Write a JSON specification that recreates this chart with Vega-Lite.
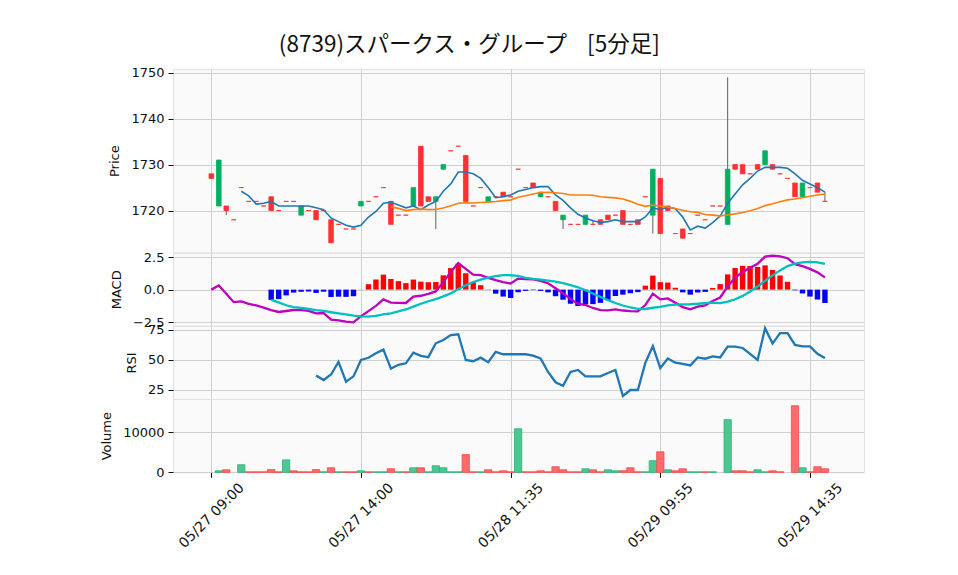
{
"$schema":"https://vega.github.io/schema/vega-lite/v6.json",
"background":"white",
"padding":{"left":100,"top":33,"right":5,"bottom":5},
"title":{"text":"(8739)スパークス・グループ \u00a0\u00a0\u00a0[5分足]","font":"Noto Sans CJK JP","fontSize":22.5,"fontWeight":"normal","color":"#101010","anchor":"middle","offset":10,"dx":-13},
"config":{
 "view":{"fill":"#fafafa","stroke":"#e2e2e2"},
 "axis":{"labelFont":"DejaVu Sans","titleFont":"DejaVu Sans","labelFontSize":13,"titleFontSize":13,"titleFontWeight":"normal","labelColor":"#101010","titleColor":"#101010","gridColor":"#d0d0d0","gridWidth":1,"tickColor":"#101010","tickSize":5,"labelPadding":4,"titlePadding":9,"domain":false,"labelOverlap":false}
},
"datasets":{"d":[
{"i":0,"o":1728,"h":1728,"l":1727,"c":1727,"v":null,"vd":"down","m5":null,"m25":null,"macd":0,"sig":null,"hist":null,"rsi":null},
{"i":1,"o":1721,"h":1731,"l":1721,"c":1731,"v":400,"vd":"up","m5":null,"m25":null,"macd":0.319,"sig":null,"hist":null,"rsi":null},
{"i":2,"o":1721,"h":1721,"l":1719,"c":1720,"v":650,"vd":"down","m5":null,"m25":null,"macd":-0.312,"sig":null,"hist":null,"rsi":null},
{"i":3,"o":1718,"h":1718,"l":1718,"c":1718,"v":null,"vd":"down","m5":null,"m25":null,"macd":-0.962,"sig":null,"hist":null,"rsi":null},
{"i":4,"o":1725,"h":1725,"l":1725,"c":1725,"v":1900,"vd":"up","m5":1724.2,"m25":null,"macd":-0.903,"sig":null,"hist":null,"rsi":null},
{"i":5,"o":1722,"h":1722,"l":1722,"c":1722,"v":150,"vd":"down","m5":1723.2,"m25":null,"macd":-1.085,"sig":null,"hist":null,"rsi":null},
{"i":6,"o":1722,"h":1722,"l":1722,"c":1722,"v":150,"vd":"down","m5":1721.4,"m25":null,"macd":-1.215,"sig":null,"hist":null,"rsi":null},
{"i":7,"o":1721,"h":1721,"l":1721,"c":1721,"v":150,"vd":"down","m5":1721.6,"m25":null,"macd":-1.383,"sig":null,"hist":null,"rsi":null},
{"i":8,"o":1723,"h":1723,"l":1720,"c":1720,"v":700,"vd":"down","m5":1722.0,"m25":null,"macd":-1.579,"sig":-0.791,"hist":-0.788,"rsi":null},
{"i":9,"o":1720,"h":1720,"l":1720,"c":1720,"v":150,"vd":"down","m5":1721.0,"m25":null,"macd":-1.714,"sig":-0.982,"hist":-0.733,"rsi":null},
{"i":10,"o":1722,"h":1722,"l":1722,"c":1722,"v":3100,"vd":"up","m5":1721.0,"m25":null,"macd":-1.641,"sig":-1.200,"hist":-0.442,"rsi":null},
{"i":11,"o":1722,"h":1722,"l":1722,"c":1722,"v":400,"vd":"down","m5":1721.0,"m25":null,"macd":-1.565,"sig":-1.339,"hist":-0.227,"rsi":null},
{"i":12,"o":1719,"h":1721,"l":1719,"c":1721,"v":150,"vd":"down","m5":1721.0,"m25":null,"macd":-1.568,"sig":-1.406,"hist":-0.162,"rsi":null},
{"i":13,"o":1720,"h":1720,"l":1720,"c":1720,"v":150,"vd":"down","m5":1721.0,"m25":null,"macd":-1.632,"sig":-1.487,"hist":-0.145,"rsi":null},
{"i":14,"o":1720,"h":1720,"l":1718,"c":1718,"v":700,"vd":"down","m5":1720.6,"m25":null,"macd":-1.823,"sig":-1.569,"hist":-0.254,"rsi":37.14},
{"i":15,"o":1720,"h":1720,"l":1720,"c":1720,"v":150,"vd":"up","m5":1720.2,"m25":null,"macd":-1.792,"sig":-1.633,"hist":-0.159,"rsi":33.33},
{"i":16,"o":1718,"h":1718,"l":1713,"c":1713,"v":1150,"vd":"down","m5":1718.4,"m25":null,"macd":-2.306,"sig":-1.736,"hist":-0.570,"rsi":37.93},
{"i":17,"o":1717,"h":1717,"l":1717,"c":1717,"v":150,"vd":"up","m5":1717.6,"m25":null,"macd":-2.363,"sig":-1.823,"hist":-0.540,"rsi":48.39},
{"i":18,"o":1716,"h":1716,"l":1716,"c":1716,"v":150,"vd":"down","m5":1716.8,"m25":null,"macd":-2.461,"sig":-1.906,"hist":-0.555,"rsi":32.00},
{"i":19,"o":1716,"h":1716,"l":1716,"c":1716,"v":150,"vd":"down","m5":1716.4,"m25":null,"macd":-2.509,"sig":-2.002,"hist":-0.507,"rsi":36.36},
{"i":20,"o":1721,"h":1722,"l":1721,"c":1722,"v":400,"vd":"up","m5":1716.8,"m25":null,"macd":-2.040,"sig":-2.055,"hist":0.015,"rsi":50.00},
{"i":21,"o":1722,"h":1722,"l":1722,"c":1722,"v":150,"vd":"down","m5":1718.6,"m25":null,"macd":-1.649,"sig":-2.064,"hist":0.415,"rsi":51.85},
{"i":22,"o":1723,"h":1723,"l":1723,"c":1723,"v":150,"vd":"up","m5":1719.8,"m25":null,"macd":-1.244,"sig":-2.021,"hist":0.776,"rsi":55.56},
{"i":23,"o":1725,"h":1725,"l":1725,"c":1725,"v":150,"vd":"up","m5":1721.6,"m25":null,"macd":-0.753,"sig":-1.902,"hist":1.149,"rsi":58.62},
{"i":24,"o":1722,"h":1722,"l":1717,"c":1717,"v":900,"vd":"down","m5":1721.8,"m25":1720.80,"macd":-0.999,"sig":-1.814,"hist":0.815,"rsi":42.86},
{"i":25,"o":1719,"h":1719,"l":1719,"c":1719,"v":150,"vd":"up","m5":1721.2,"m25":1720.48,"macd":-1.020,"sig":-1.671,"hist":0.651,"rsi":45.95},
{"i":26,"o":1719,"h":1719,"l":1719,"c":1719,"v":150,"vd":"down","m5":1720.6,"m25":1720.00,"macd":-1.024,"sig":-1.522,"hist":0.498,"rsi":47.22},
{"i":27,"o":1721,"h":1725,"l":1721,"c":1725,"v":1150,"vd":"up","m5":1721.0,"m25":1720.20,"macd":-0.538,"sig":-1.309,"hist":0.771,"rsi":56.10},
{"i":28,"o":1734,"h":1734,"l":1721,"c":1721,"v":1150,"vd":"down","m5":1720.2,"m25":1720.32,"macd":-0.470,"sig":-1.082,"hist":0.612,"rsi":53.49},
{"i":29,"o":1723,"h":1723,"l":1722,"c":1722,"v":150,"vd":"up","m5":1721.2,"m25":1720.20,"macd":-0.331,"sig":-0.892,"hist":0.561,"rsi":52.38},
{"i":30,"o":1722,"h":1723,"l":1716,"c":1723,"v":1650,"vd":"up","m5":1722.0,"m25":1720.24,"macd":-0.139,"sig":-0.724,"hist":0.585,"rsi":63.89},
{"i":31,"o":1729,"h":1730,"l":1729,"c":1730,"v":1150,"vd":"up","m5":1724.2,"m25":1720.56,"macd":0.572,"sig":-0.522,"hist":1.094,"rsi":66.67},
{"i":32,"o":1733,"h":1733,"l":1733,"c":1733,"v":150,"vd":"up","m5":1725.8,"m25":1721.04,"macd":1.361,"sig":-0.288,"hist":1.649,"rsi":70.73},
{"i":33,"o":1734,"h":1734,"l":1734,"c":1734,"v":150,"vd":"up","m5":1728.4,"m25":1721.60,"macd":2.044,"sig":0.051,"hist":1.993,"rsi":71.43},
{"i":34,"o":1732,"h":1732,"l":1722,"c":1722,"v":4400,"vd":"down","m5":1728.4,"m25":1721.68,"macd":1.598,"sig":0.341,"hist":1.257,"rsi":50.00},
{"i":35,"o":1721,"h":1721,"l":1721,"c":1721,"v":150,"vd":"down","m5":1728.0,"m25":1721.64,"macd":1.151,"sig":0.583,"hist":0.568,"rsi":48.98},
{"i":36,"o":1725,"h":1725,"l":1725,"c":1725,"v":150,"vd":"up","m5":1727.0,"m25":1721.76,"macd":1.107,"sig":0.766,"hist":0.341,"rsi":51.92},
{"i":37,"o":1722,"h":1723,"l":1722,"c":1723,"v":650,"vd":"down","m5":1725.0,"m25":1721.84,"macd":0.900,"sig":0.918,"hist":-0.018,"rsi":48.08},
{"i":38,"o":1723,"h":1723,"l":1723,"c":1723,"v":150,"vd":"down","m5":1722.8,"m25":1721.96,"macd":0.728,"sig":1.036,"hist":-0.308,"rsi":56.82},
{"i":39,"o":1724,"h":1724,"l":1723,"c":1723,"v":400,"vd":"down","m5":1723.0,"m25":1722.16,"macd":0.584,"sig":1.116,"hist":-0.532,"rsi":54.76},
{"i":40,"o":1723,"h":1723,"l":1723,"c":1723,"v":150,"vd":"down","m5":1723.4,"m25":1722.28,"macd":0.465,"sig":1.104,"hist":-0.639,"rsi":54.76},
{"i":41,"o":1729,"h":1729,"l":1729,"c":1729,"v":10800,"vd":"up","m5":1724.2,"m25":1722.92,"macd":0.845,"sig":1.047,"hist":-0.202,"rsi":54.76},
{"i":42,"o":1725,"h":1725,"l":1725,"c":1725,"v":150,"vd":"down","m5":1724.6,"m25":1723.24,"macd":0.815,"sig":0.910,"hist":-0.096,"rsi":54.76},
{"i":43,"o":1726,"h":1726,"l":1725,"c":1725,"v":150,"vd":"down","m5":1725.0,"m25":1723.60,"macd":0.781,"sig":0.820,"hist":-0.039,"rsi":53.66},
{"i":44,"o":1723,"h":1724,"l":1723,"c":1724,"v":400,"vd":"down","m5":1725.2,"m25":1723.92,"macd":0.666,"sig":0.766,"hist":-0.100,"rsi":51.22},
{"i":45,"o":1723,"h":1723,"l":1723,"c":1723,"v":150,"vd":"down","m5":1725.2,"m25":1723.96,"macd":0.489,"sig":0.697,"hist":-0.208,"rsi":40.00},
{"i":46,"o":1722,"h":1722,"l":1720,"c":1720,"v":1400,"vd":"down","m5":1723.4,"m25":1723.88,"macd":0.105,"sig":0.609,"hist":-0.504,"rsi":31.43},
{"i":47,"o":1718,"h":1719,"l":1716,"c":1719,"v":650,"vd":"down","m5":1722.2,"m25":1723.72,"macd":-0.277,"sig":0.497,"hist":-0.774,"rsi":28.57},
{"i":48,"o":1717,"h":1717,"l":1717,"c":1717,"v":150,"vd":"down","m5":1720.6,"m25":1723.40,"macd":-0.732,"sig":0.351,"hist":-1.083,"rsi":40.00},
{"i":49,"o":1717,"h":1717,"l":1717,"c":1717,"v":150,"vd":"down","m5":1719.2,"m25":1723.40,"macd":-1.081,"sig":0.179,"hist":-1.260,"rsi":41.67},
{"i":50,"o":1717,"h":1719,"l":1717,"c":1719,"v":900,"vd":"up","m5":1718.4,"m25":1723.40,"macd":-1.182,"sig":-0.046,"hist":-1.136,"rsi":36.36},
{"i":51,"o":1717,"h":1718,"l":1717,"c":1717,"v":650,"vd":"down","m5":1717.8,"m25":1723.32,"macd":-1.407,"sig":-0.293,"hist":-1.114,"rsi":36.36},
{"i":52,"o":1718,"h":1718,"l":1717,"c":1717,"v":150,"vd":"down","m5":1717.4,"m25":1723.00,"macd":-1.568,"sig":-0.554,"hist":-1.014,"rsi":36.36},
{"i":53,"o":1719,"h":1719,"l":1718,"c":1718,"v":650,"vd":"up","m5":1717.6,"m25":1722.88,"macd":-1.596,"sig":-0.806,"hist":-0.790,"rsi":39.13},
{"i":54,"o":1719,"h":1719,"l":1719,"c":1719,"v":400,"vd":"up","m5":1718.0,"m25":1722.76,"macd":-1.520,"sig":-1.029,"hist":-0.491,"rsi":41.67},
{"i":55,"o":1720,"h":1720,"l":1717,"c":1717,"v":400,"vd":"down","m5":1717.6,"m25":1722.52,"macd":-1.603,"sig":-1.218,"hist":-0.384,"rsi":20.00},
{"i":56,"o":1717,"h":1717,"l":1717,"c":1717,"v":1150,"vd":"down","m5":1717.6,"m25":1722.00,"macd":-1.649,"sig":-1.371,"hist":-0.278,"rsi":25.00},
{"i":57,"o":1718,"h":1718,"l":1717,"c":1717,"v":150,"vd":"down","m5":1717.6,"m25":1721.36,"macd":-1.667,"sig":-1.475,"hist":-0.192,"rsi":25.00},
{"i":58,"o":1723,"h":1723,"l":1723,"c":1723,"v":150,"vd":"up","m5":1718.6,"m25":1720.92,"macd":-1.183,"sig":-1.486,"hist":0.303,"rsi":47.62},
{"i":59,"o":1719,"h":1729,"l":1715,"c":1729,"v":2900,"vd":"up","m5":1720.6,"m25":1721.20,"macd":-0.312,"sig":-1.390,"hist":1.077,"rsi":61.54},
{"i":60,"o":1727,"h":1727,"l":1715,"c":1715,"v":5100,"vd":"down","m5":1720.2,"m25":1720.96,"macd":-0.743,"sig":-1.316,"hist":0.573,"rsi":43.24},
{"i":61,"o":1721,"h":1721,"l":1720,"c":1720,"v":650,"vd":"up","m5":1720.8,"m25":1720.76,"macd":-0.673,"sig":-1.216,"hist":0.543,"rsi":51.22},
{"i":62,"o":1715,"h":1715,"l":1715,"c":1715,"v":400,"vd":"down","m5":1720.4,"m25":1720.44,"macd":-1.009,"sig":-1.151,"hist":0.142,"rsi":47.73},
{"i":63,"o":1716,"h":1716,"l":1714,"c":1714,"v":900,"vd":"down","m5":1718.6,"m25":1720.08,"macd":-1.341,"sig":-1.131,"hist":-0.210,"rsi":46.67},
{"i":64,"o":1715,"h":1715,"l":1715,"c":1715,"v":150,"vd":"up","m5":1715.8,"m25":1719.76,"macd":-1.506,"sig":-1.121,"hist":-0.386,"rsi":45.45},
{"i":65,"o":1719,"h":1719,"l":1719,"c":1719,"v":150,"vd":"up","m5":1716.6,"m25":1719.60,"macd":-1.299,"sig":-1.082,"hist":-0.218,"rsi":52.17},
{"i":66,"o":1718,"h":1718,"l":1718,"c":1718,"v":150,"vd":"down","m5":1716.2,"m25":1719.16,"macd":-1.202,"sig":-1.030,"hist":-0.172,"rsi":51.06},
{"i":67,"o":1721,"h":1721,"l":1721,"c":1721,"v":150,"vd":"up","m5":1717.4,"m25":1719.00,"macd":-0.873,"sig":-0.995,"hist":0.123,"rsi":53.06},
{"i":68,"o":1721,"h":1721,"l":1721,"c":1721,"v":null,"vd":"down","m5":1718.8,"m25":1718.84,"macd":-0.605,"sig":-1.028,"hist":0.423,"rsi":52.08},
{"i":69,"o":1717,"h":1749,"l":1717,"c":1729,"v":13050,"vd":"up","m5":1721.6,"m25":1719.04,"macd":0.250,"sig":-0.918,"hist":1.168,"rsi":61.11},
{"i":70,"o":1730,"h":1730,"l":1729,"c":1729,"v":400,"vd":"down","m5":1723.6,"m25":1719.28,"macd":0.917,"sig":-0.741,"hist":1.658,"rsi":61.11},
{"i":71,"o":1730,"h":1730,"l":1728,"c":1728,"v":400,"vd":"down","m5":1725.6,"m25":1719.60,"macd":1.349,"sig":-0.479,"hist":1.828,"rsi":60.00},
{"i":72,"o":1728,"h":1728,"l":1728,"c":1728,"v":150,"vd":"down","m5":1727.0,"m25":1719.96,"macd":1.673,"sig":-0.144,"hist":1.817,"rsi":55.10},
{"i":73,"o":1730,"h":1730,"l":1729,"c":1729,"v":650,"vd":"up","m5":1728.6,"m25":1720.44,"macd":1.987,"sig":0.244,"hist":1.743,"rsi":50.00},
{"i":74,"o":1730,"h":1733,"l":1730,"c":1733,"v":150,"vd":"up","m5":1729.4,"m25":1721.08,"macd":2.529,"sig":0.669,"hist":1.860,"rsi":76.47},
{"i":75,"o":1730,"h":1730,"l":1729,"c":1729,"v":400,"vd":"down","m5":1729.4,"m25":1721.48,"macd":2.606,"sig":1.093,"hist":1.514,"rsi":63.64},
{"i":76,"o":1728,"h":1728,"l":1728,"c":1728,"v":150,"vd":"down","m5":1729.4,"m25":1721.92,"macd":2.557,"sig":1.474,"hist":1.083,"rsi":72.41},
{"i":77,"o":1727,"h":1727,"l":1727,"c":1727,"v":null,"vd":"down","m5":1729.2,"m25":1722.32,"macd":2.410,"sig":1.809,"hist":0.601,"rsi":72.41},
{"i":78,"o":1726,"h":1726,"l":1723,"c":1723,"v":16500,"vd":"down","m5":1728.0,"m25":1722.52,"macd":1.948,"sig":1.997,"hist":-0.050,"rsi":62.50},
{"i":79,"o":1723,"h":1726,"l":1723,"c":1726,"v":1150,"vd":"up","m5":1726.6,"m25":1722.80,"macd":1.803,"sig":2.096,"hist":-0.293,"rsi":61.29},
{"i":80,"o":1725,"h":1725,"l":1725,"c":1725,"v":150,"vd":"down","m5":1725.8,"m25":1723.12,"macd":1.589,"sig":2.122,"hist":-0.533,"rsi":61.29},
{"i":81,"o":1726,"h":1726,"l":1724,"c":1724,"v":1400,"vd":"down","m5":1725.0,"m25":1723.40,"macd":1.324,"sig":2.084,"hist":-0.760,"rsi":55.17},
{"i":82,"o":1722,"h":1724,"l":1722,"c":1722,"v":900,"vd":"down","m5":1724.0,"m25":1723.60,"macd":0.941,"sig":1.968,"hist":-1.026,"rsi":51.61}
]},
"data":{"name":"d"},
"spacing":0,
"bounds":"flush",
"vconcat":[
{"width":691,"height":183.4,
 "encoding":{"x":{"field":"i","type":"quantitative","scale":{"domain":[-5.12,87.22],"nice":false,"zero":false,"padding":0},"axis":{"values":[0,20,40,60,80],"tickCount":10,"labels":false,"ticks":false,"title":null,"grid":true}}},
 "layer":[
  {"mark":{"type":"rule","color":"#606060","strokeWidth":1},
   "encoding":{"y":{"field":"l","type":"quantitative","title":"Price","scale":{"domain":[1710.9,1750.8],"nice":false,"zero":false},"axis":{"values":[1720,1730,1740,1750],"tickCount":10,"format":"d","grid":true}},"y2":{"field":"h"}}},
  {"mark":{"type":"bar","size":4.6,"strokeWidth":0.8},
   "encoding":{"y":{"field":"o","type":"quantitative","title":"Price"},"y2":{"field":"c"},
    "color":{"condition":{"test":"datum.c > datum.o","value":"#00b060"},"value":"#fe3032"},
    "stroke":{"condition":{"test":"datum.c > datum.o","value":"#00b060"},"value":"#fe3032"}}},
  {"mark":{"type":"line","color":"#1f77b4","strokeWidth":1.6},"encoding":{"y":{"field":"m5","type":"quantitative","title":"Price"}}},
  {"mark":{"type":"line","color":"#ff7f0e","strokeWidth":1.6},"encoding":{"y":{"field":"m25","type":"quantitative","title":"Price"}}}
 ]},
{"width":691,"height":72.6,
 "encoding":{"x":{"field":"i","type":"quantitative","scale":{"domain":[-5.12,87.22],"nice":false,"zero":false,"padding":0},"axis":{"values":[0,20,40,60,80],"tickCount":10,"labels":false,"ticks":false,"title":null,"grid":true}}},
 "layer":[
  {"mark":{"type":"bar","size":5.4},
   "encoding":{"y":{"field":"hist","type":"quantitative","title":"MACD","scale":{"domain":[-2.76,2.81],"nice":false,"zero":false},"axis":{"values":[-2.5,0,2.5],"tickCount":10,"format":".1f","grid":true,"labelOverlap":false}},"y2":{"datum":0},
    "color":{"condition":{"test":"datum.hist >= 0","value":"#ff0000"},"value":"#0000ff"}}},
  {"mark":{"type":"line","color":"#bf00bf","strokeWidth":2.3},"encoding":{"y":{"field":"macd","type":"quantitative","title":"MACD"}}},
  {"mark":{"type":"line","color":"#00bfbf","strokeWidth":2.3},"encoding":{"y":{"field":"sig","type":"quantitative","title":"MACD"}}}
 ]},
{"width":691,"height":73,
 "mark":{"type":"line","color":"#1f77b4","strokeWidth":2.3},
 "encoding":{"x":{"field":"i","type":"quantitative","scale":{"domain":[-5.12,87.22],"nice":false,"zero":false,"padding":0},"axis":{"values":[0,20,40,60,80],"tickCount":10,"labels":false,"ticks":false,"title":null,"grid":true}},
  "y":{"field":"rsi","type":"quantitative","title":"RSI","scale":{"domain":[17.5,78.3],"nice":false,"zero":false},"axis":{"values":[25,50,75],"tickCount":10,"format":"d","grid":true}}}},
{"width":691,"height":73.4,
 "mark":{"type":"bar","size":7.3,"strokeWidth":0.8},
 "encoding":{"x":{"field":"i","type":"quantitative","scale":{"domain":[-5.12,87.22],"nice":false,"zero":false,"padding":0},"axis":{"values":[0,20,40,60,80],"tickCount":10,"title":null,"grid":true,"ticks":true,"labelFontSize":14,"labelAngle":-45,"labelAlign":"center","labelBaseline":"middle","labelPadding":38,"labelFlush":false,"labelOverlap":false,"labelBound":false,"labelExpr":"datum.value == 0 ? '05/27 09:00' : datum.value == 20 ? '05/27 14:00' : datum.value == 40 ? '05/28 11:35' : datum.value == 60 ? '05/29 09:55' : '05/29 14:35'"}},
  "y":{"field":"v","type":"quantitative","title":"Volume","scale":{"domain":[0,18170],"nice":false},"axis":{"values":[0,10000],"tickCount":10,"format":"d","grid":true}},"y2":{"datum":0},
  "color":{"condition":{"test":"datum.vd == 'up'","value":"#4dc790"},"value":"#fd6b6c"},
  "stroke":{"condition":{"test":"datum.vd == 'up'","value":"#2fb07a"},"value":"#f24a4b"}}}
]
}
